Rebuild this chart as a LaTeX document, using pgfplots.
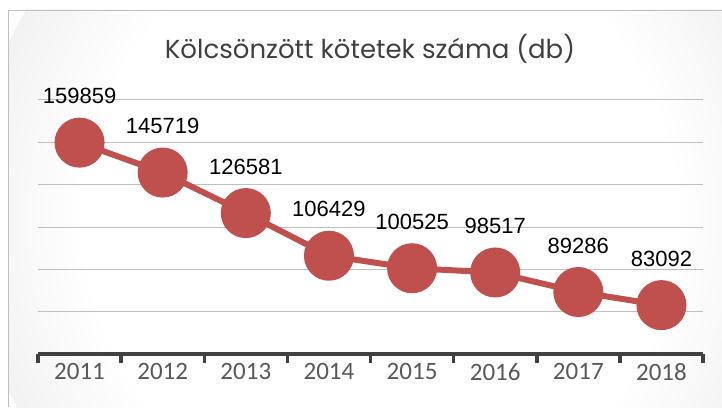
\documentclass[border=0pt]{standalone}
\usepackage{pgfplots}
\pgfplotsset{compat=1.18}
\usepackage{fontspec}
\setmainfont{Liberation Sans}
\newfontfamily\titlefont{Poppins}
\newfontfamily\tickfont{Carlito}
\definecolor{serred}{HTML}{C0504D}
\definecolor{axdark}{HTML}{404040}
\definecolor{ticktext}{HTML}{595959}
\definecolor{gridc}{HTML}{BFBFBF}
% circular background gradient, white centre, grey corners
\pgfdeclareradialshading{chartbg}{\pgfpoint{0bp}{0bp}}{%
  color(0bp)=(white); color(18bp)=(white); color(50bp)=(black!23)}

\begin{document}
\begin{tikzpicture}[x=1bp,y=1bp]
\path[use as bounding box] (0,0) rectangle (722,407);
\begin{scope}
  \clip (8,0) rectangle (722,397);
  \shade[shading=chartbg] (380,190) circle[radius=410];
\end{scope}
\draw[black!25, line width=0.8bp] (8,0) -- (8,397) -- (722,397);
\node[font=\titlefont\fontsize{26bp}{30bp}\selectfont, text=axdark] at (370,358) {Kölcsönzött kötetek száma (db)};
\begin{axis}[
  at={(38bp,53bp)}, anchor=south west,
  scale only axis, width=665bp, height=254bp,
  xmin=-0.5, xmax=7.5, ymin=60000, ymax=180000,
  axis x line=bottom, axis y line=left,
  axis line style={-, line width=3.5bp, color=axdark},
  every outer x axis line/.append style={-, line width=3.5bp, color=axdark},
  y axis line style={draw=none},
  xtick={0,...,7},
  xticklabels={2011,2012,2013,2014,2015,2016,2017,2018},
  minor xtick={-0.5,0.5,...,7.5},
  tick align=outside,
  major tick length=0pt, minor tick length=9bp,
  every tick/.append style={line width=3.5bp, color=axdark},
  every minor tick/.append style={line width=3.5bp, color=axdark},
  minor tick style={line width=3.5bp, color=axdark},
  xticklabel style={font=\tickfont\fontsize{25bp}{28bp}\selectfont, text=ticktext, yshift=-6bp},
  ytick={80000,100000,...,180000},
  scaled y ticks=false,
  yticklabels={},
  ytick style={draw=none},
  ymajorgrids, grid style={gridc, line width=1bp},
  clip=false,
  point meta=explicit symbolic,
  nodes near coords,
  every node near coord/.append style={anchor=base, yshift=39bp,
    font=\fontsize{22bp}{26bp}\selectfont, text=black},
]
\addplot[color=serred, line width=6bp, mark=*, mark size=22bp,
  mark options={fill=serred, draw=none}] coordinates {
  (0,159859) [159859]
  (1,145719) [145719]
  (2,126581) [126581]
  (3,106429) [106429]
  (4,100525) [100525]
  (5,98517) [98517]
  (6,89286) [89286]
  (7,83092) [83092]
};
\end{axis}
\end{tikzpicture}
\end{document}
